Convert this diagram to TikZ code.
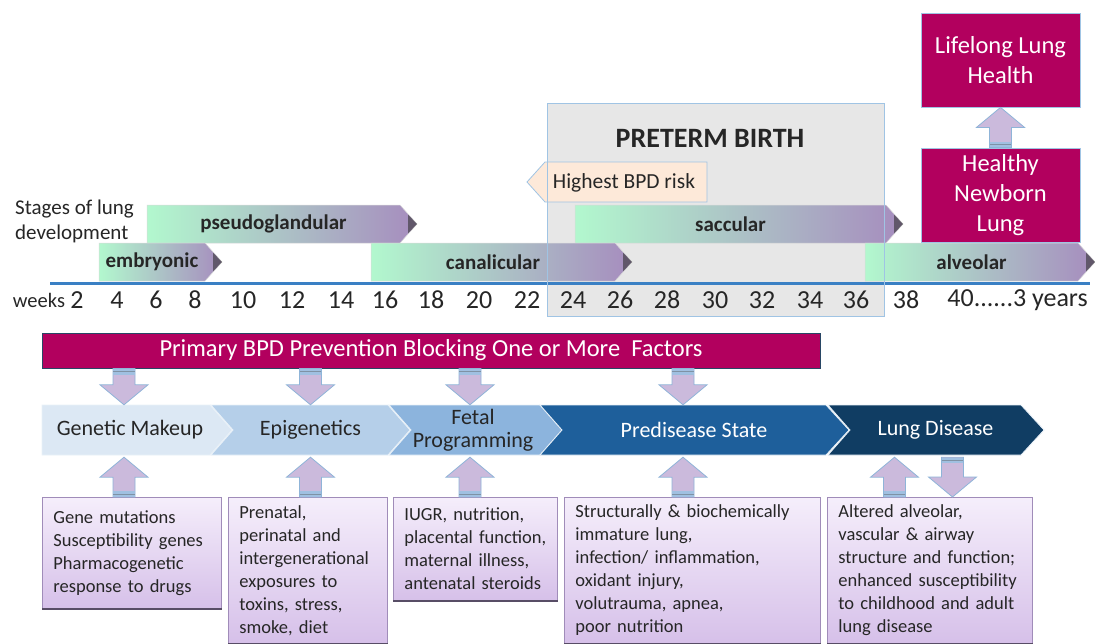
\documentclass[tikz,border=0pt]{standalone}
\usepackage{fontspec}
\setmainfont{Carlito}
\usetikzlibrary{calc}
\definecolor{mag}{RGB}{178,0,94}
\definecolor{pregrey}{RGB}{231,231,231}
\definecolor{preborder}{RGB}{160,196,228}
\definecolor{peach}{RGB}{253,233,217}
\definecolor{mint}{RGB}{178,248,206}
\definecolor{lav}{RGB}{166,140,190}
\definecolor{axisblue}{RGB}{58,128,196}
\definecolor{cA}{RGB}{220,232,244}
\definecolor{cB}{RGB}{181,207,233}
\definecolor{cC}{RGB}{140,180,221}
\definecolor{cD}{RGB}{30,95,155}
\definecolor{cE}{RGB}{16,61,99}
\definecolor{arrfill}{RGB}{203,186,220}
\definecolor{arrborder}{RGB}{143,180,216}
\definecolor{stripeblue}{RGB}{120,165,212}
\definecolor{boxtop}{RGB}{245,238,251}
\definecolor{boxbot}{RGB}{214,192,233}
\definecolor{boxborder}{RGB}{160,140,185}
\definecolor{bardark}{RGB}{40,70,100}
\newcommand\fsz[2]{\fontsize{#1}{#2}\selectfont}
\tikzset{
  magbox/.style={fill=mag, draw=preborder, line width=0.8pt, text=white, font=\fsz{24.5}{30}, align=center, inner sep=0pt, minimum width=159pt, minimum height=94pt},
  blockarr/.style={fill=arrfill, draw=arrborder, line width=0.8pt},
  stripe/.style={fill=stripeblue!70, draw=none},
  stagefill/.style={left color=mint, right color=lav, draw=black!15, line width=0.5pt},
  stagetext/.style={font=\bfseries\fsz{21}{24}, text=black!85},
  chevtext/.style={font=\fsz{22}{23}, inner sep=0pt, minimum height=50pt, align=center},
  infobox/.style={top color=boxtop, bottom color=boxbot, draw=boxborder, line width=0.8pt, font=\fsz{18.5}{23}, align=left, anchor=north west, inner ysep=0pt, inner xsep=11pt, text=black!85},
  wk/.style={font=\fsz{26}{28}, text=black!85, inner sep=0pt}
}
% block arrow up: #1 bottom point, #2 top point (x from #1)
\newcommand\blkup[2]{%
  \path[blockarr] let \p1=#1, \p2=#2 in
   (\x1-11pt,\y1) -- (\x1-11pt,\y2-20pt) -- (\x1-24pt,\y2-20pt) -- (\x1,\y2)
   -- (\x1+24pt,\y2-20pt) -- (\x1+11pt,\y2-20pt) -- (\x1+11pt,\y1) -- cycle;
  \path[stripe] let \p1=#1 in (\x1-10.6pt,\y1+0.5pt) rectangle (\x1+10.6pt,\y1+6pt);
  \draw[stripeblue!60!black!70, line width=0.6pt] let \p1=#1 in (\x1-10.6pt,\y1+3pt) -- (\x1+10.6pt,\y1+3pt);
}
% block arrow down: #1 top point, #2 bottom point (x from #1)
\newcommand\blkdown[2]{%
  \path[blockarr] let \p1=#1, \p2=#2 in
   (\x1-11pt,\y1) -- (\x1-11pt,\y2+20pt) -- (\x1-24pt,\y2+20pt) -- (\x1,\y2)
   -- (\x1+24pt,\y2+20pt) -- (\x1+11pt,\y2+20pt) -- (\x1+11pt,\y1) -- cycle;
  \path[stripe] let \p1=#1 in (\x1-10.6pt,\y1-0.5pt) rectangle (\x1+10.6pt,\y1-6pt);
  \draw[stripeblue!60!black!70, line width=0.6pt] let \p1=#1 in (\x1-10.6pt,\y1-3pt) -- (\x1+10.6pt,\y1-3pt);
}
% stage arrow: name, x1, x2, ytop, label
\newcommand\stage[5]{%
  \path[stagefill] (#2,#4) -- (#3,#4) -- (#3+17,#4+19) -- (#3,#4+38) -- (#2,#4+38) -- cycle;
  \fill[black!80, opacity=.6] (#3+8,#4+9.5) -- (#3+17,#4+19) -- (#3+8,#4+28.5) -- cycle;
  \node[stagetext] (#1) at ({(#2+#3)/2},#4+19) {#5};
}
\begin{document}
\begin{tikzpicture}[x=1pt,y=-1pt]
\useasboundingbox[fill=white] (0,0) rectangle (1095,643);

% ---------- top timeline ----------
\fill[pregrey] (547,103) rectangle (884,316);
\node[font=\bfseries\fsz{28}{30}, text=black!85] (pbt) at (710,138) {PRETERM BIRTH};
\path[fill=peach, draw=preborder, line width=0.8pt] (545,162) -- (707,162) -- (707,202) -- (545,202) -- (527,182) -- cycle;
\node[font=\fsz{21.5}{24}, text=black!85] (hbr) at (624,183) {Highest BPD risk};

\node[font=\fsz{21}{25}, align=left, anchor=west, inner sep=0pt, text=black!85] (stg) at (15,221) {Stages of lung\\development};

\stage{pg}{147}{400}{205}{pseudoglandular}
\stage{sac}{575}{886}{205}{saccular}
\stage{emb}{99}{205}{243}{embryonic}
\stage{can}{371}{615}{243}{canalicular}
\stage{alv}{865}{1078}{243}{alveolar}

\draw[axisblue, line width=3pt] (50,283.5) -- (1090,283.5);
\draw[preborder, line width=1pt] (547,103) rectangle (884,316);

\node[font=\fsz{20.5}{22}, text=black!85, inner sep=0pt] (wks) at (39,300) {weeks};
\foreach \n/\xx in {2/77,4/117,6/156,8/195,10/243,12/292,14/341,16/385,18/431,20/479,22/527,24/573,26/620,28/667,30/715,32/762,34/810,36/856,38/906}
  \node[wk] (w\n) at (\xx,300) {\n};
\node[wk, anchor=east] (wend) at (1088,300) {40......3 years};

% ---------- top right ----------
\node[magbox] (llh) at (1000.5,60) {Lifelong Lung\\Health};
\node[magbox] (hnl) at (1000.5,195) {Healthy\\Newborn\\Lung};
\blkup{(hnl.north)}{(llh.south)}

% ---------- prevention bar ----------
\node[fill=mag, draw=bardark, line width=1pt, minimum width=778pt, minimum height=35pt, inner sep=0pt, text=white, font=\fsz{24.5}{26}] (bar) at (431,350.5) {Primary BPD Prevention Blocking One or More\ \ Factors};

% ---------- chevrons ----------
\path[fill=cA, draw=white!70!cB, line width=0.8pt] (42,405) -- (210,405) -- (232,430) -- (210,455) -- (42,455) -- cycle;
\path[fill=cB, draw=white!70!cB, line width=0.8pt] (211,405) -- (388,405) -- (410,430) -- (388,455) -- (211,455) -- (233,430) -- cycle;
\path[fill=cC, draw=white!70!cB, line width=0.8pt] (389,405) -- (540,405) -- (562,430) -- (540,455) -- (389,455) -- (411,430) -- cycle;
\path[fill=cD, draw=white!70!cB, line width=0.8pt] (540,405) -- (826,405) -- (849,430) -- (826,455) -- (540,455) -- (562,430) -- cycle;
\path[fill=cE, draw=white!70!cB, line width=0.8pt] (828,405) -- (1021,405) -- (1044,430) -- (1021,455) -- (828,455) -- (850,430) -- cycle;

\node[chevtext, minimum width=168pt, text=black!85] (gm) at (130,430) {Genetic Makeup};
\node[chevtext, minimum width=155pt, text=black!85] (epi) at (310.5,430) {Epigenetics};
\node[chevtext, minimum width=129pt, text=black!85] (fp) at (473,430) {Fetal\\Programming};
\node[chevtext, minimum width=264pt, text=white] (ps) at (694,430) {Predisease State};
\node[chevtext, minimum width=171pt, text=white] (ld) at (935.5,430) {Lung Disease};

% ---------- info boxes ----------
\node[infobox, text width=157pt, minimum height=111pt] (b1) at (42,497) {Gene mutations\\Susceptibility genes\\Pharmacogenetic\\response to drugs};
\node[infobox, text width=137pt, minimum height=146pt] (b2) at (228,497) {Prenatal,\\perinatal and\\intergenerational\\exposures to\\toxins, stress,\\smoke, diet};
\node[infobox, text width=142pt, minimum height=103pt] (b3) at (393,497) {IUGR, nutrition,\\placental function,\\maternal illness,\\antenatal steroids};
\node[infobox, text width=234pt, minimum height=146pt] (b4) at (564,497) {Structurally \& biochemically\\immature lung,\\infection/ inflammation,\\oxidant injury,\\volutrauma, apnea,\\poor nutrition};
\node[infobox, text width=183pt, minimum height=146pt] (b5) at (827,497) {Altered alveolar,\\vascular \& airway\\structure and function;\\enhanced susceptibility\\to childhood and adult\\lung disease};
\foreach \b in {b1,b2,b3,b4,b5}
  \draw[boxborder!55!black, line width=1.6pt] (\b.south west) -- (\b.south east);

% ---------- block arrows ----------
\coordinate (agm) at ($(gm.north)+(-6,0)$);
\coordinate (aepi) at (epi.north);
\coordinate (afp) at ($(fp.north)+(-3,0)$);
\coordinate (aps) at ($(ps.north)+(-11,0)$);
\blkdown{(bar.south -| agm)}{(agm)}
\blkdown{(bar.south -| aepi)}{(aepi)}
\blkdown{(bar.south -| afp)}{(afp)}
\blkdown{(bar.south -| aps)}{(aps)}

\coordinate (ugm) at ($(gm.south)+(-6,2)$);
\coordinate (uepi) at ($(epi.south)+(0,2)$);
\coordinate (ufp) at ($(fp.south)+(-3,2)$);
\coordinate (ups) at ($(ps.south)+(-11,2)$);
\coordinate (uld) at ($(ld.south)+(-41,2)$);
\coordinate (dld) at ($(ld.south)+(17,2)$);
\blkup{(b1.north -| ugm)}{(ugm)}
\blkup{(b2.north -| uepi)}{(uepi)}
\blkup{(b3.north -| ufp)}{(ufp)}
\blkup{(b4.north -| ups)}{(ups)}
\blkup{(b5.north -| uld)}{(uld)}
\blkdown{(dld)}{(b5.north -| dld)}
\end{tikzpicture}
\end{document}
